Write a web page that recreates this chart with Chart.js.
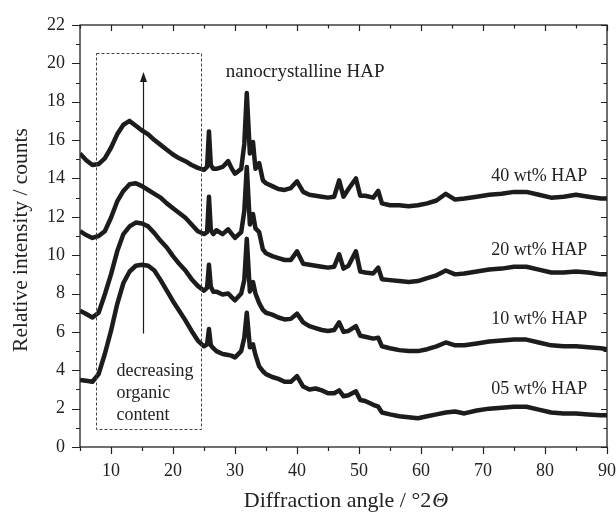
<!DOCTYPE html>
<html>
<head>
<meta charset="utf-8">
<script src="https://cdn.jsdelivr.net/npm/chart.js@4/dist/chart.umd.min.js"></script>
<style>
  html, body { margin: 0; padding: 0; background: #fff; }
  #wrap { width: 616px; height: 513px; }
</style>
</head>
<body>
<div id="wrap"><canvas id="xrd"></canvas></div>
<script>
// Diffraction angle (°2Θ) sample positions shared by all patterns
const angles = [
  5, 6, 7, 8, 9, 10, 11, 12, 13, 14, 15, 16, 17, 18, 19, 20, 21, 22, 23, 24, 25,
  25.5, 25.8, 26.1, 26.5,
  27, 28, 28.9, 29.5, 30, 31, 31.5, 31.9, 32.4, 32.9, 33.3, 33.9, 34.5, 35,
  36, 37, 38, 39, 40, 41, 42, 43, 44, 45, 46,
  46.8, 47.5, 48.3, 49.5, 50.2, 51, 52.3, 53.1, 53.7, 55, 56.5, 58, 59.5, 61, 62.5, 64, 65.5, 67,
  69, 71, 73, 75, 77, 79, 81, 83, 85, 87, 89, 90
];

// Relative intensity (offset stacks)
const hap40 = [
  15.3, 14.95, 14.7, 14.75, 15.05, 15.6, 16.3, 16.8, 17.0, 16.75, 16.5, 16.3, 16.0, 15.75, 15.5, 15.25, 15.05, 14.9, 14.7, 14.55, 14.45,
  14.6, 16.45, 14.7, 14.5,
  14.5, 14.6, 14.9, 14.5, 14.25, 14.5, 15.8, 18.45, 15.3, 15.9, 14.5, 14.8, 13.9, 13.75,
  13.6, 13.45, 13.4, 13.5, 13.85, 13.3, 13.15, 13.1, 13.05, 13.0, 13.05,
  13.9, 13.05, 13.45, 14.0, 13.1, 13.1, 13.0, 13.35, 12.7, 12.6, 12.6, 12.55, 12.6, 12.7, 12.85, 13.2, 12.9, 12.95,
  13.05, 13.15, 13.2, 13.3, 13.3, 13.15, 13.0, 13.05, 13.15, 13.05, 12.95, 12.95
];
const hap20 = [
  11.25, 11.05, 10.9, 11.0, 11.25, 11.95, 12.8, 13.35, 13.7, 13.75, 13.6, 13.4, 13.2, 13.0, 12.7, 12.45, 12.2, 11.95, 11.6, 11.25, 11.1,
  11.2, 13.05, 11.3, 11.1,
  11.3, 11.1, 11.35, 11.1, 10.9, 11.2, 12.3, 14.6, 11.6, 12.15, 11.4, 11.2, 10.3, 10.1,
  9.95, 9.85, 9.75, 9.75, 10.2, 9.55, 9.5, 9.45, 9.4, 9.35, 9.4,
  10.05, 9.3, 9.45, 10.2, 9.15, 9.1, 9.05, 9.35, 8.75, 8.7, 8.65, 8.6, 8.65, 8.8, 8.95, 9.2, 9.0, 9.05,
  9.15, 9.25, 9.3, 9.4, 9.4, 9.25, 9.1, 9.1, 9.15, 9.1, 9.0, 9.0
];
const hap10 = [
  7.1, 6.93, 6.75, 7.0, 7.95, 9.0, 10.2, 11.1, 11.5, 11.7, 11.65, 11.5, 11.15, 10.75, 10.4, 9.95, 9.55, 9.2, 8.75, 8.4, 8.15,
  8.3, 9.5, 8.35, 8.1,
  8.1, 7.95, 8.0, 7.8, 7.65, 8.0, 8.7, 10.85, 8.1, 8.6, 8.0, 7.5, 7.15, 7.0,
  6.9, 6.75, 6.65, 6.68, 6.95, 6.5, 6.3, 6.2, 6.1, 6.05, 6.1,
  6.5, 6.0, 6.05, 6.3, 5.8, 5.75, 5.65, 5.7, 5.25, 5.15, 5.05, 5.0, 5.0, 5.1, 5.25, 5.45, 5.3, 5.3,
  5.4, 5.5, 5.55, 5.6, 5.6, 5.45, 5.3, 5.25, 5.25, 5.2, 5.15, 5.1
];
const hap05 = [
  3.5, 3.45, 3.4, 3.8, 4.85, 6.05, 7.45, 8.55, 9.15, 9.45, 9.5, 9.45, 9.2, 8.7, 8.15, 7.6, 7.1, 6.6, 6.05, 5.55, 5.25,
  5.35, 6.15, 5.3, 5.15,
  5.0, 4.85, 4.8, 4.75, 4.67, 5.0, 5.7, 7.0, 5.2, 5.35, 4.8, 4.2, 3.95, 3.8,
  3.65, 3.55, 3.4, 3.4, 3.7, 3.15, 3.0, 3.05, 2.95, 2.8, 2.8,
  2.95, 2.65, 2.7, 2.9, 2.45, 2.4, 2.2, 2.1, 1.8, 1.7, 1.6, 1.55, 1.5, 1.6, 1.7, 1.8, 1.85, 1.75,
  1.9, 2.0, 2.05, 2.1, 2.1, 1.95, 1.8, 1.75, 1.75, 1.7, 1.65, 1.65
];

const seriesLabels = ['40 wt% HAP', '20 wt% HAP', '10 wt% HAP', '05 wt% HAP'];
const seriesData = [hap40, hap20, hap10, hap05];

// where the in-plot annotations sit (data units)
const labelX = 86.8;
const labelY = [13.85, 10.0, 6.41, 2.77];
const boxCorners = { x0: 7.6, x1: 24.5, y0: 0.92, y1: 20.52 };
const arrowAt = { x: 15.2, from: 5.92, to: 19.55 };
const boxText = ['decreasing', 'organic', 'content'];
const boxTextAt = { x: 10.9, y: [3.69, 2.53, 1.39] };
const topNote = { text: 'nanocrystalline HAP', x: 28.5, y: 19.3 };

const SERIF = "'Liberation Serif', 'Times New Roman', serif";
const INK = '#1c1c1c';

const decorations = {
  id: 'decorations',
  afterDatasetsDraw(chart) {
    const ctx = chart.ctx;
    const xs = chart.scales.x, ys = chart.scales.y;
    const px = v => xs.getPixelForValue(v);
    const py = v => ys.getPixelForValue(v);
    const a = chart.chartArea;

    ctx.save();

    // dashed box
    ctx.strokeStyle = '#444';
    ctx.lineWidth = 1;
    ctx.setLineDash([3, 2]);
    ctx.strokeRect(Math.round(px(boxCorners.x0)) + 0.5, Math.round(py(boxCorners.y1)) + 0.5,
      Math.round(px(boxCorners.x1) - px(boxCorners.x0)), Math.round(py(boxCorners.y0) - py(boxCorners.y1)));
    ctx.setLineDash([]);

    // arrow
    const ax = Math.round(px(arrowAt.x)) + 0.5;
    const yTip = py(arrowAt.to);
    ctx.strokeStyle = INK;
    ctx.lineWidth = 1.2;
    ctx.beginPath();
    ctx.moveTo(ax, py(arrowAt.from));
    ctx.lineTo(ax, yTip + 6);
    ctx.stroke();
    ctx.fillStyle = INK;
    ctx.beginPath();
    ctx.moveTo(ax, yTip);
    ctx.lineTo(ax - 3.5, yTip + 10);
    ctx.lineTo(ax + 3.5, yTip + 10);
    ctx.closePath();
    ctx.fill();

    // texts
    ctx.fillStyle = '#222';
    ctx.textBaseline = 'alphabetic';
    ctx.textAlign = 'left';
    ctx.font = '19px ' + SERIF;
    ctx.fillText(topNote.text, px(topNote.x), py(topNote.y));
    ctx.font = '18px ' + SERIF;
    boxText.forEach((t, i) => ctx.fillText(t, px(boxTextAt.x), py(boxTextAt.y[i])));
    ctx.textAlign = 'right';
    seriesLabels.forEach((t, i) => ctx.fillText(t, px(labelX), py(labelY[i])));

    // frame
    ctx.strokeStyle = '#222';
    ctx.lineWidth = 1.3;
    ctx.strokeRect(a.left, a.top, a.right - a.left, a.bottom - a.top);

    // ticks: outward on left/bottom, inward on top/right
    ctx.lineWidth = 1.2;
    ctx.beginPath();
    xs.ticks.forEach(t => {
      const x = Math.round(px(t.value)) + 0.5;
      const major = t.value % 10 === 0;
      ctx.moveTo(x, a.bottom); ctx.lineTo(x, a.bottom + (major ? 7 : 4));
      ctx.moveTo(x, a.top); ctx.lineTo(x, a.top + (major ? 6 : 3.5));
    });
    ys.ticks.forEach(t => {
      const y = Math.round(py(t.value)) + 0.5;
      const major = t.value % 2 === 0;
      ctx.moveTo(a.left, y); ctx.lineTo(a.left - (major ? 8 : 4), y);
      ctx.moveTo(a.right, y); ctx.lineTo(a.right - (major ? 6 : 3.5), y);
    });
    ctx.stroke();

    // axis titles
    ctx.fillStyle = '#222';
    ctx.font = '22px ' + SERIF;
    const part1 = 'Diffraction angle / °2';
    const w1 = ctx.measureText(part1).width;
    ctx.font = 'italic 22px ' + SERIF;
    const w2 = ctx.measureText('Θ').width;
    const startX = (a.left + a.right) / 2 + 2 - (w1 + w2) / 2;
    ctx.textAlign = 'left';
    ctx.font = '22px ' + SERIF;
    ctx.fillText(part1, startX, 507);
    ctx.font = 'italic 22px ' + SERIF;
    ctx.fillText('Θ', startX + w1 + 1, 507);

    ctx.font = '21.5px ' + SERIF;
    ctx.translate(27, 240);
    ctx.rotate(-Math.PI / 2);
    ctx.textAlign = 'center';
    ctx.fillText('Relative intensity / counts', 0, 0);

    ctx.restore();
  }
};

const datasets = seriesData.map((vals, i) => ({
  label: seriesLabels[i],
  data: vals.map((v, k) => ({ x: angles[k], y: v })),
  borderColor: INK,
  borderWidth: 4.5,
  borderJoinStyle: 'round',
  pointRadius: 0,
  tension: 0,
  fill: false
}));

new Chart(document.getElementById('xrd'), {
  type: 'line',
  data: { datasets },
  plugins: [decorations],
  options: {
    responsive: true,
    maintainAspectRatio: false,
    animation: false,
    events: [],
    layout: { padding: { top: 25, right: 9, left: 0, bottom: 0 } },
    plugins: { legend: { display: false }, tooltip: { enabled: false } },
    scales: {
      x: {
        type: 'linear',
        min: 5,
        max: 90,
        grid: { display: false },
        border: { display: false },
        afterBuildTicks: s => { s.ticks = []; for (let v = 5; v <= 90; v += 5) s.ticks.push({ value: v }); },
        afterFit: s => { s.height = 66; s.paddingLeft = 0; s.paddingRight = 0; },
        ticks: {
          padding: 5,
          color: '#222',
          font: { family: SERIF, size: 18 },
          maxRotation: 0,
          autoSkip: false,
          callback: v => (v % 10 === 0 ? String(v) : '')
        }
      },
      y: {
        min: 0,
        max: 22,
        grid: { display: false },
        border: { display: false },
        afterBuildTicks: s => { s.ticks = []; for (let v = 0; v <= 22; v += 1) s.ticks.push({ value: v }); },
        afterFit: s => { s.width = 80; },
        ticks: {
          padding: 7,
          color: '#222',
          font: { family: SERIF, size: 18 },
          autoSkip: false,
          callback: v => (v % 2 === 0 ? String(v) : '')
        }
      }
    }
  }
});
</script>
</body>
</html>
